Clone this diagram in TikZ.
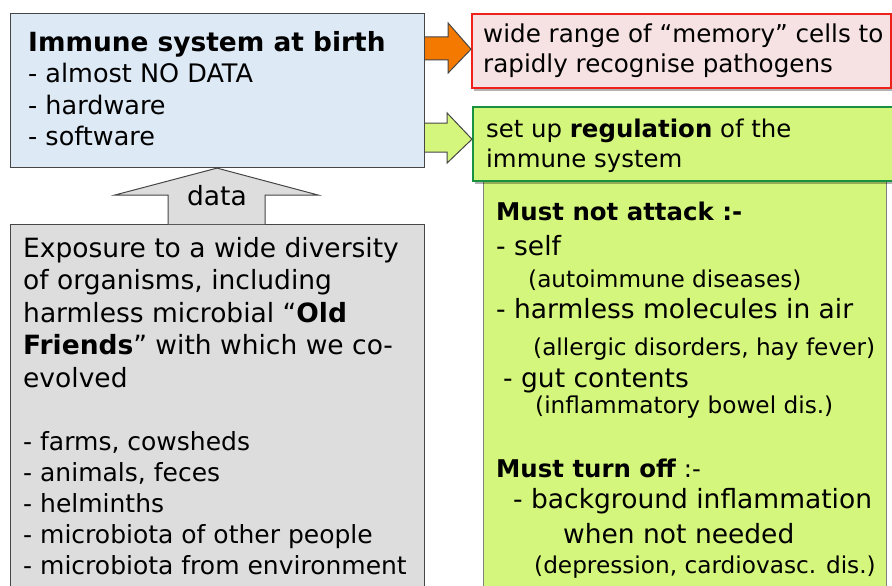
\documentclass[tikz,border=0pt]{standalone}
\usepackage{fontspec}
\setmainfont{DejaVu Sans}
\usetikzlibrary{shadows,calc}
\definecolor{bluefill}{RGB}{221,233,245}
\definecolor{grayfill}{RGB}{221,221,221}
\definecolor{pinkfill}{RGB}{246,226,226}
\definecolor{greenfill}{RGB}{213,246,124}
\definecolor{orangefill}{RGB}{243,121,0}
\definecolor{redline}{RGB}{238,34,24}
\definecolor{greenline}{RGB}{24,146,64}
\definecolor{edge}{RGB}{70,70,70}
\tikzset{
  boxnode/.style={rectangle, draw=edge, line width=1.1pt, inner sep=0, anchor=north west},
  txt/.style={anchor=base west, inner sep=0, text=black},
  sz/.style={font=\fontsize{#1}{#1}\selectfont},
  shadowed/.style={drop shadow={shadow xshift=2pt, shadow yshift=-3pt, opacity=0.3, fill=black}},
  blockarrow/.style={draw=edge, line width=1pt, line join=miter}
}
\begin{document}
\begin{tikzpicture}[x=1pt,y=-1pt]
\clip (0,0) rectangle (892,586);
\fill[white] (0,0) rectangle (892,586);

% big green box (behind)
\node[boxnode, draw=gray, fill=greenfill, minimum width=403pt, minimum height=430pt] (rules) at (483,172) {};
% green box
\node[boxnode, draw=greenline, line width=2.4pt, fill=greenfill, shadowed, minimum width=430pt, minimum height=74pt] (reg) at (472,106) {};
% red box
\node[boxnode, draw=redline, line width=2.4pt, fill=pinkfill, shadowed, minimum width=419pt, minimum height=74pt] (mem) at (471,13) {};
% blue box
\node[boxnode, fill=bluefill, minimum width=414pt, minimum height=154pt] (birth) at (10,13) {};
% gray box
\node[boxnode, fill=grayfill, minimum width=414pt, minimum height=380pt] (expo) at (10,224) {};

% orange arrow
\draw[blockarrow, fill=orangefill]
  ($(birth.north east)+(0,24)$) -- ++(23,0) -- ++(0,-14) -- ($(mem.west)+(0,-2)$)
  -- ($(birth.north east)+(23,60)$) -- ++(0,-13) -- ($(birth.north east)+(0,47)$);
% green arrow
\draw[blockarrow, fill=greenfill]
  ($(birth.north east)+(0,110)$) -- ++(22,0) -- ++(0,-10) -- ($(reg.west)+(0,-5)$)
  -- ($(birth.north east)+(22,150)$) -- ++(0,-11) -- ($(birth.north east)+(0,139)$);
% data arrow
\draw[blockarrow, fill=grayfill]
  ($(expo.north west)+(158,0)$) -- ++(0,-29) -- ++(-53,0) -- ($(birth.south west)+(207,0)$)
  -- ($(expo.north west)+(308,-29)$) -- ++(-53,0) -- ($(expo.north west)+(255,0)$);
\node[anchor=base, inner sep=0, sz=26.5] (data) at (217,205) {data};

% blue box text
\node[txt, sz=26.4] (b0) at (28,52) {\textbf{Immune system at birth}};
\node[txt, sz=25.5] (b1) at (28,83) {- almost NO DATA};
\node[txt, sz=25.5] (b2) at (28,114) {- hardware};
\node[txt, sz=25.5] (b3) at (28,145) {- software};

% red box text
\node[txt, sz=24.6] (m1) at (483,43) {wide range of “memory” cells to};
\node[txt, sz=24.6] (m2) at (483,73) {rapidly recognise pathogens};

% green box text
\node[txt, sz=24.4] (r1) at (486,137) {set up \textbf{regulation} of the};
\node[txt, sz=24.4] (r2) at (486,167) {immune system};

% gray box text
\node[txt, sz=26.5] (e1) at (23,257) {Exposure to a wide diversity};
\node[txt, sz=26.5] (e2) at (23,289.5) {of organisms, including};
\node[txt, sz=26.5] (e3) at (23,322) {harmless microbial “\textbf{Old}};
\node[txt, sz=26.5] (e4) at (23,354.5) {\textbf{Friends}” with which we co-};
\node[txt, sz=26.5] (e5) at (23,387) {evolved};
\node[txt, sz=25] (l1) at (23,450) {- farms, cowsheds};
\node[txt, sz=25] (l2) at (23,481) {- animals, feces};
\node[txt, sz=25] (l3) at (23,512) {- helminths};
\node[txt, sz=25] (l4) at (23,543) {- microbiota of other people};
\node[txt, sz=25] (l5) at (23,574) {- microbiota from environment};

% right box text
\node[txt, sz=24.4] (g1) at (496,220) {\textbf{Must not attack :-}};
\node[txt, sz=26.5] (g2) at (496,255) {- self};
\node[txt, sz=23.2] (g3) at (528,287) {(autoimmune diseases)};
\node[txt, sz=26.5] (g4) at (496,318) {- harmless molecules in air};
\node[txt, sz=23.2] (g5) at (533,355) {(allergic disorders, hay fever)};
\node[txt, sz=26.5] (g6) at (503,387) {- gut contents};
\node[txt, sz=23.2] (g7) at (535,413) {(inflammatory bowel dis.)};
\node[txt, sz=24.4] (g8) at (496,477) {\textbf{Must turn off} :-};
\node[txt, sz=26.5] (g9) at (513,508) {- background inflammation};
\node[txt, sz=26.5] (g10) at (563,543) {when not needed};
\node[txt, sz=23.2] (g11) at (534,573) {(depression, cardiovasc. dis.)};
\end{tikzpicture}
\end{document}
